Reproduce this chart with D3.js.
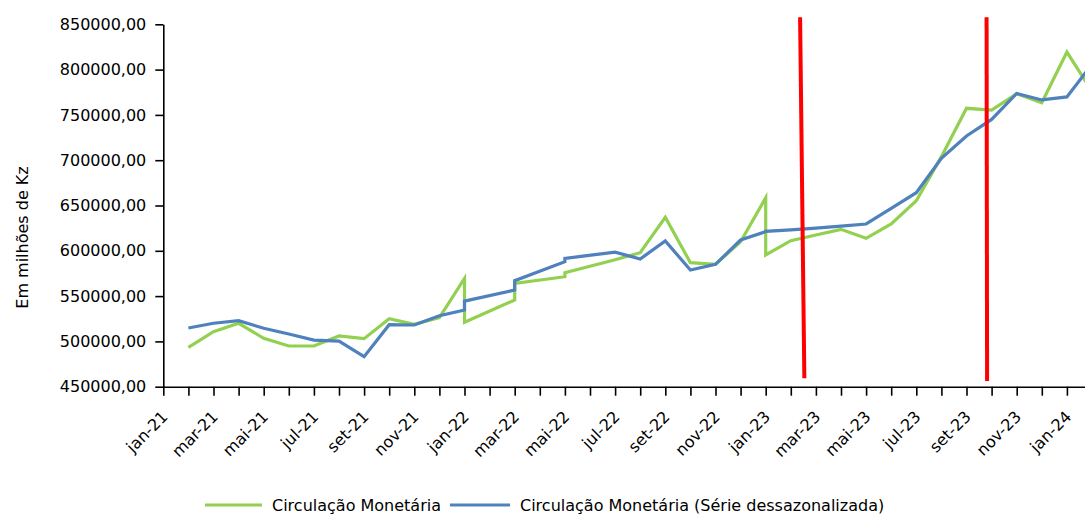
<!DOCTYPE html>
<html>
<head>
<meta charset="utf-8">
<script src="https://cdn.jsdelivr.net/npm/d3@7"></script>
<style>
  html, body { margin: 0; padding: 0; background: #fff; }
  svg { display: block; font-family: "DejaVu Sans", Verdana, sans-serif; }
</style>
</head>
<body>
<svg id="chart" width="1085" height="514"></svg>
<script>
// ---- data ----
const months = ["jan-21","fev-21","mar-21","abr-21","mai-21","jun-21","jul-21","ago-21","set-21","out-21","nov-21","dez-21",
  "jan-22","fev-22","mar-22","abr-22","mai-22","jun-22","jul-22","ago-22","set-22","out-22","nov-22","dez-22",
  "jan-23","fev-23","mar-23","abr-23","mai-23","jun-23","jul-23","ago-23","set-23","out-23","nov-23","dez-23",
  "jan-24","fev-24"];

// month position on the date axis at which each observation is plotted
const pointMonths = ["fev-21","mar-21","abr-21","mai-21","jun-21","jul-21","ago-21","set-21","out-21","nov-21","dez-21",
  "jan-22","jan-22","mar-22","mar-22","mai-22","mai-22","jul-22","ago-22","set-22","out-22","nov-22","dez-22",
  "jan-23","jan-23","fev-23","mar-23","abr-23","mai-23","jun-23","jul-23","ago-23","set-23","out-23","nov-23","dez-23",
  "jan-24","fev-24"];

const circulacao = [493500,510700,520000,503400,494900,494900,506000,503000,525000,518900,526200,
  569500,521100,545700,564100,571400,575800,590100,597900,637000,586900,585100,610000,
  658600,595400,611200,617400,623700,613800,629600,655300,703900,757300,755400,773400,763500,
  819400,776000];

const dessazonalizada = [514800,520000,522900,514500,508200,501500,500400,483100,518400,518100,528400,
  534700,544500,556700,567000,588000,591700,598500,591000,610800,578800,585100,611900,
  621100,621500,623000,625000,627300,629600,646900,664100,702100,726700,745000,773700,766500,
  769800,806000];

const seriesNames = ["Circulação Monetária", "Circulação Monetária (Série dessazonalizada)"];
const seriesColors = ["#92d050", "#4f81bd"];

const yTicks = [450000,500000,550000,600000,650000,700000,750000,800000,850000];
const xLabelMonths = ["jan-21","mar-21","mai-21","jul-21","set-21","nov-21","jan-22","mar-22","mai-22","jul-22","set-22","nov-22",
  "jan-23","mar-23","mai-23","jul-23","set-23","nov-23","jan-24"];

// red marker lines: [month position, value] start and end
const markerStartPos = [25.37, 32.80];
const markerEndPos = [25.54, 32.82];
const markerTopValue = [857700, 857700];
const markerBottomValue = [459300, 456300];

const yTitle = "Em milhões de Kz";

// ---- chart ----
const svg = d3.select("#chart");
svg.append("rect").attr("width", 1085).attr("height", 514).attr("fill", "#fff");

const x = d3.scaleLinear().domain([0, months.length - 1]).range([163.3, 163.3 + 25.1 * (months.length - 1)]);
const y = d3.scaleLinear().domain([450000, 850000]).range([386.7, 24.3]);
const mx = m => x(months.indexOf(m));

const locale = d3.formatLocale({decimal: ",", thousands: "", grouping: [3], currency: ["", ""]});
const fmt = locale.format(".2f");

// Y axis
const yAxis = svg.append("g")
  .attr("transform", `translate(${x(0)},0)`)
  .call(d3.axisLeft(y).tickValues(yTicks).tickFormat(fmt).tickSize(8).tickPadding(9).tickSizeOuter(0));
yAxis.select(".domain").attr("stroke", "#000").attr("stroke-width", 1.6);
yAxis.selectAll(".tick line").attr("stroke", "#000").attr("stroke-width", 1.6);
yAxis.selectAll("text").attr("font-size", 16).attr("fill", "#000").attr("font-family", "DejaVu Sans");

// X axis
const xAxis = svg.append("g")
  .attr("transform", `translate(0,${y(450000)})`)
  .call(d3.axisBottom(x).tickValues(d3.range(months.length))
    .tickFormat(i => xLabelMonths.includes(months[i]) ? months[i] : "")
    .tickSize(9).tickSizeOuter(0));
xAxis.select(".domain").attr("stroke", "#000").attr("stroke-width", 1.6);
xAxis.selectAll(".tick line").attr("stroke", "#000").attr("stroke-width", 1.6);
xAxis.selectAll("text")
  .attr("x", 0).attr("y", 0).attr("dy", 0)
  .attr("transform", "translate(5,31) rotate(-45)")
  .style("text-anchor", "end")
  .attr("font-size", 16).attr("fill", "#000").attr("font-family", "DejaVu Sans");

// Y title
svg.append("text")
  .attr("transform", `translate(28,237.5) rotate(-90)`)
  .attr("text-anchor", "middle")
  .attr("font-size", 16).attr("fill", "#000")
  .text(yTitle);

// Lines
const line = d3.line().x(d => mx(d.m)).y(d => y(d.v));
[circulacao, dessazonalizada].forEach((vals, k) => {
  const pts = vals.map((v, i) => ({m: pointMonths[i], v}));
  svg.append("path").datum(pts)
    .attr("d", line)
    .attr("fill", "none")
    .attr("stroke", seriesColors[k])
    .attr("stroke-width", 3.2)
    .attr("stroke-linejoin", "miter")
    .attr("stroke-miterlimit", 10);
});

// red marker lines
markerStartPos.forEach((p, i) => {
  svg.append("line")
    .attr("x1", x(p)).attr("y1", y(markerTopValue[i]))
    .attr("x2", x(markerEndPos[i])).attr("y2", y(markerBottomValue[i]))
    .attr("stroke", "#ff0000").attr("stroke-width", 4);
});

// Legend
const legendY = 505;
const legendItems = [{x0: 205, x1: 262, tx: 272}, {x0: 450, x1: 510, tx: 520}];
legendItems.forEach((it, k) => {
  svg.append("line").attr("x1", it.x0).attr("x2", it.x1).attr("y1", legendY).attr("y2", legendY)
    .attr("stroke", seriesColors[k]).attr("stroke-width", 3.2);
  svg.append("text").attr("x", it.tx).attr("y", legendY).attr("dy", "0.35em")
    .attr("font-size", 16).attr("fill", "#000").text(seriesNames[k]);
});
</script>
</body>
</html>
